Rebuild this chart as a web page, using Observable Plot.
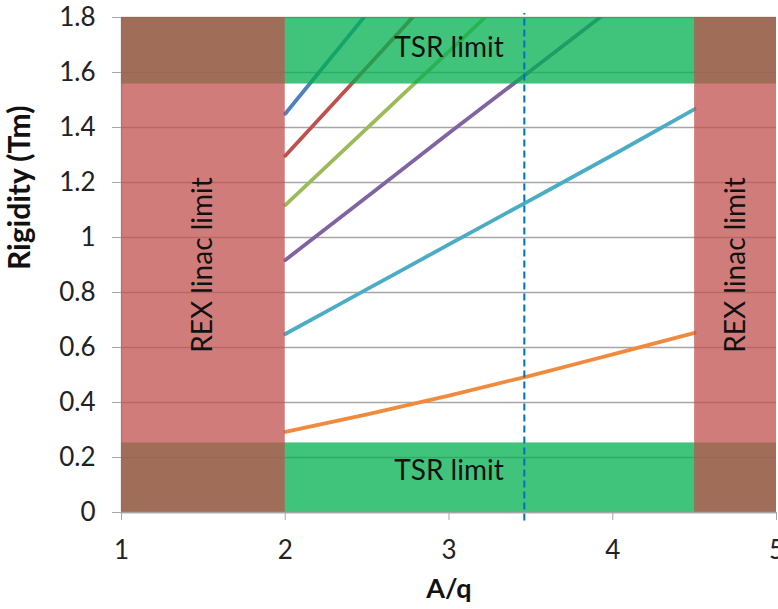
<!DOCTYPE html>
<html>
<head>
<meta charset="utf-8">
<script src="https://cdn.jsdelivr.net/npm/d3@7"></script>
<script src="https://cdn.jsdelivr.net/npm/@observablehq/plot@0.6"></script>
<style>
  html, body { margin: 0; padding: 0; background: #fff; }
  #chart svg { display: block; }
</style>
</head>
<body>
<div id="chart"></div>
<script>
// A/q sample points
const aq = [2, 2.5, 3, 3.5, 4, 4.5];
// Rigidity (Tm) series
const series1 = [1.45, 1.815];
const series2 = [1.297, 1.62, 1.945];
const series3 = [1.118, 1.398, 1.677, 1.957];
const series4 = [0.918, 1.148, 1.38, 1.607, 1.836];
const series5 = [0.649, 0.812, 0.975, 1.137, 1.30, 1.467];
const series6 = [0.293, 0.357, 0.425, 0.498, 0.575, 0.653];

const seriesNames  = ["S1", "S2", "S3", "S4", "S5", "S6"];
const seriesValues = [series1, series2, series3, series4, series5, series6];
const seriesColors = ["#4F81BD", "#C0504D", "#9BBB59", "#8064A2", "#4BACC6", "#F08A3C"];

// limits
const tsrLow = 0.253;
const tsrHigh = 1.558;
const rexLow = 2;
const rexHigh = 4.5;
const markerAq = 3.46;

// ticks
const xTicks = [1, 2, 3, 4, 5];
const yTicks = [0, 0.2, 0.4, 0.6, 0.8, 1, 1.2, 1.4, 1.6, 1.8];

const rows = [];
seriesValues.forEach((vals, i) => {
  vals.forEach((v, j) => rows.push({series: seriesNames[i], aq: aq[j], r: v}));
});

const greenRects = [
  {x1: 1, x2: 5, y1: 0, y2: tsrLow},
  {x1: 1, x2: 5, y1: tsrHigh, y2: 1.8}
];
const redRects = [
  {x1: 1, x2: rexLow, y1: 0, y2: 1.8},
  {x1: rexHigh, x2: 5, y1: 0, y2: 1.8}
];

const font = "Lato, 'Open Sans', sans-serif";
const fmt = d => String(+d.toFixed(1));

const chart = Plot.plot({
  width: 778,
  height: 609,
  marginLeft: 121,
  marginRight: 2,
  marginTop: 17,
  marginBottom: 97,
  style: {fontFamily: font, background: "#fff", color: "#222"},
  x: {domain: [1, 5], axis: null},
  y: {domain: [0, 1.8], axis: null},
  color: {type: "ordinal", domain: seriesNames, range: seriesColors},
  marks: [
    Plot.ruleY(yTicks, {stroke: "#A6A6A6", strokeWidth: 1.5}),
    Plot.ruleX([1], {stroke: "#BFBFBF", strokeWidth: 1.5}),
    Plot.line(rows, {x: "aq", y: "r", z: "series", stroke: "series", strokeWidth: 3.8, curve: "monotone-x", clip: true}),
    Plot.rect(greenRects, {x1: "x1", x2: "x2", y1: "y1", y2: "y2", fill: "#00B050", fillOpacity: 0.75}),
    Plot.rect(redRects, {x1: "x1", x2: "x2", y1: "y1", y2: "y2", fill: "#C0504D", fillOpacity: 0.75}),
    Plot.ruleX([markerAq], {y1: -0.031, y2: 1.815, stroke: "#0070C0", strokeWidth: 2, strokeDasharray: "7,4"}),
    Plot.text(["TSR limit"], {x: 3, y: 1.69, fontSize: 28, fill: "#111"}),
    Plot.text(["TSR limit"], {x: 3, y: 0.151, fontSize: 28, fill: "#111"}),
    Plot.text(["REX linac limit"], {x: 1.5, y: 0.9, rotate: -90, fontSize: 28, fill: "#111"}),
    Plot.text(["REX linac limit"], {x: 4.75, y: 0.9, rotate: -90, fontSize: 28, fill: "#111"}),
    Plot.ruleY([0], {stroke: "#A6A6A6", strokeWidth: 1.5}),
    Plot.axisY(yTicks, {tickSize: 9, tickPadding: 17, stroke: "#A6A6A6", fill: "#222", fontSize: 26, tickFormat: fmt, label: null}),
    Plot.axisX(xTicks, {tickSize: 8, tickPadding: 20, stroke: "#A6A6A6", fill: "#222", fontSize: 26, tickFormat: d => String(d), label: null}),
    Plot.text(["Rigidity (Tm)"], {frameAnchor: "left", dx: -101, dy: 5, rotate: -90, fontSize: 30, fontWeight: "bold", fill: "#111"}),
    Plot.text(["A/q"], {frameAnchor: "bottom", dy: 85, fontSize: 27, fontWeight: "bold", fill: "#111"})
  ]
});

document.getElementById("chart").appendChild(chart);
</script>
</body>
</html>
